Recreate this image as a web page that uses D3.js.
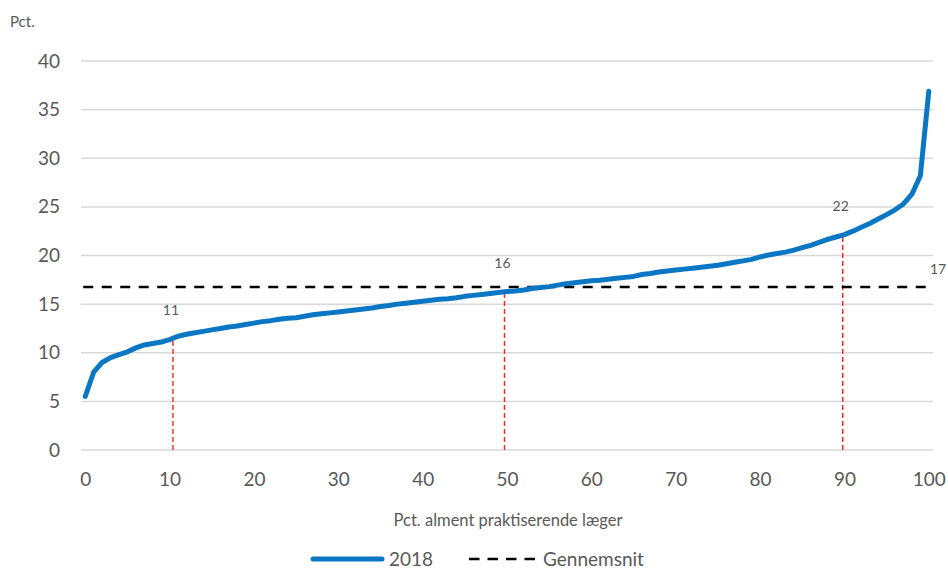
<!DOCTYPE html>
<html>
<head>
<meta charset="utf-8">
<script src="https://cdn.jsdelivr.net/npm/d3@7"></script>
<style>
  html, body { margin: 0; padding: 0; background: #fff; }
  svg { display: block; font-family: Lato, "Open Sans", sans-serif; }
</style>
</head>
<body>
<svg id="chart" width="948" height="569"></svg>
<script>
// ---- Data ----
const percentiles = d3.range(0, 101);
const values2018 = [
  5.5, 8.0, 9.0, 9.5, 9.8, 10.1, 10.5, 10.8, 10.95, 11.1,
  11.35, 11.7, 11.9, 12.05, 12.2, 12.35, 12.5, 12.65, 12.75, 12.9,
  13.05, 13.2, 13.3, 13.45, 13.55, 13.6, 13.75, 13.9, 14.0, 14.1,
  14.2, 14.3, 14.4, 14.5, 14.6, 14.75, 14.85, 15.0, 15.1, 15.2,
  15.3, 15.4, 15.5, 15.55, 15.65, 15.8, 15.9, 16.0, 16.1, 16.2,
  16.3, 16.35, 16.45, 16.6, 16.7, 16.8, 16.95, 17.1, 17.2, 17.3,
  17.4, 17.45, 17.55, 17.65, 17.75, 17.85, 18.05, 18.15, 18.3, 18.4,
  18.5, 18.6, 18.7, 18.8, 18.9, 19.0, 19.15, 19.3, 19.45, 19.6,
  19.85, 20.05, 20.2, 20.35, 20.55, 20.8, 21.05, 21.35, 21.65, 21.9,
  22.15, 22.5, 22.9, 23.3, 23.75, 24.2, 24.7, 25.3, 26.3, 28.2,
  36.9
];
const average = 16.75;
const averageLabel = "17";
const markerX = [10.4, 49.7, 89.8];
const markerY = [11.5, 16.3, 22.2];
const markerLabels = ["11", "16", "22"];
const xTicks = [0, 10, 20, 30, 40, 50, 60, 70, 80, 90, 100];
const yTicks = [0, 5, 10, 15, 20, 25, 30, 35, 40];
const yAxisTitle = "Pct.";
const xAxisTitle = "Pct. alment praktiserende læger";
const seriesNames = ["2018", "Gennemsnit"];

// ---- Layout ----
const svg = d3.select("#chart");
const plotLeft = 81, plotRight = 933, plotTop = 61, plotBottom = 450;
const x = d3.scaleLinear().domain([-0.5, 100.5]).range([plotLeft, plotRight]);
const y = d3.scaleLinear().domain([0, 40]).range([plotBottom, plotTop]);
const textColor = "#595959";

// gridlines
svg.append("g").selectAll("line").data(yTicks).join("line")
  .attr("x1", plotLeft).attr("x2", plotRight)
  .attr("y1", d => y(d)).attr("y2", d => y(d))
  .attr("stroke", "#d9d9d9").attr("stroke-width", 1.5);

// y axis labels
const yAxis = d3.axisLeft(y).tickValues(yTicks).tickSize(0).tickPadding(0);
const gy = svg.append("g").attr("transform", "translate(60,0)").call(yAxis);
gy.select(".domain").remove();
gy.selectAll("text").attr("font-size", 19).attr("fill", textColor)
  .attr("font-family", "Lato, 'Open Sans', sans-serif");

// x axis labels
const xAxis = d3.axisBottom(x).tickValues(xTicks).tickSize(0).tickPadding(0);
const gx = svg.append("g").attr("transform", "translate(0,472)").call(xAxis);
gx.select(".domain").remove();
gx.selectAll("text").attr("font-size", 19).attr("fill", textColor)
  .attr("font-family", "Lato, 'Open Sans', sans-serif");

// titles
svg.append("text").attr("x", 10).attr("y", 27).text(yAxisTitle)
  .attr("font-size", 15).attr("fill", textColor);
svg.append("text").attr("x", 508).attr("y", 526).attr("text-anchor", "middle")
  .text(xAxisTitle).attr("font-size", 16.5).attr("fill", textColor);

// red drop lines
svg.append("g").selectAll("line").data(markerX).join("line")
  .attr("x1", d => x(d)).attr("x2", d => x(d))
  .attr("y1", y(0)).attr("y2", (d, i) => y(markerY[i]))
  .attr("stroke", "#ff2020").attr("stroke-width", 1.4)
  .attr("stroke-dasharray", "5,3");

// average line
svg.append("line")
  .attr("x1", x(0) - 2).attr("x2", x(100) + 2)
  .attr("y1", y(average)).attr("y2", y(average))
  .attr("stroke", "#000").attr("stroke-width", 2.5)
  .attr("stroke-dasharray", "10,8.5");

// main line
const line = d3.line().x((d, i) => x(percentiles[i])).y(d => y(d));
svg.append("path").datum(values2018)
  .attr("d", line).attr("fill", "none")
  .attr("stroke", "#0a77c4").attr("stroke-width", 5)
  .attr("stroke-linecap", "round").attr("stroke-linejoin", "round");

// marker labels
svg.append("g").selectAll("text").data(markerX).join("text")
  .attr("x", d => x(d) - 2)
  .attr("y", (d, i) => y(markerY[i]) - 23)
  .attr("text-anchor", "middle")
  .attr("font-size", 14).attr("fill", textColor)
  .text((d, i) => markerLabels[i]);
svg.append("text").attr("x", 930).attr("y", 274)
  .attr("font-size", 14).attr("fill", textColor).text(averageLabel);

// legend
const lg = svg.append("g");
lg.append("line").attr("x1", 313).attr("x2", 382).attr("y1", 559).attr("y2", 559)
  .attr("stroke", "#0a77c4").attr("stroke-width", 5).attr("stroke-linecap", "round");
lg.append("text").attr("x", 389).attr("y", 566).text(seriesNames[0])
  .attr("font-size", 19).attr("fill", textColor);
lg.append("line").attr("x1", 469).attr("x2", 535).attr("y1", 559).attr("y2", 559)
  .attr("stroke", "#000").attr("stroke-width", 2.5).attr("stroke-dasharray", "10.5,8");
lg.append("text").attr("x", 543).attr("y", 566).text(seriesNames[1])
  .attr("font-size", 19).attr("fill", textColor);
</script>
</body>
</html>
